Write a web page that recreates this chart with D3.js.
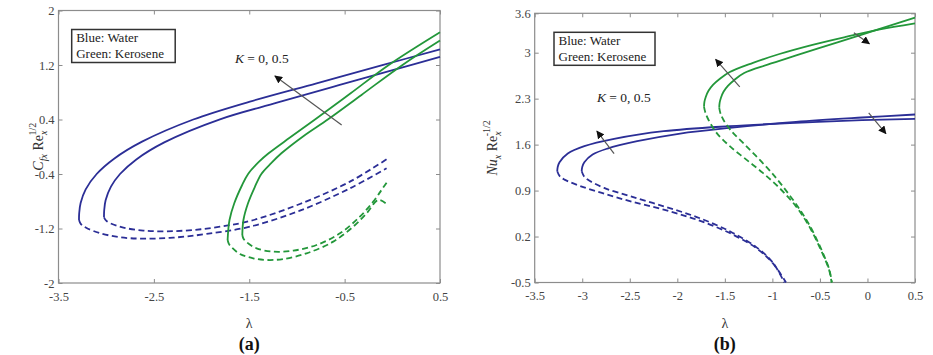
<!DOCTYPE html>
<html>
<head>
<meta charset="utf-8">
<script src="https://cdn.jsdelivr.net/npm/d3@7"></script>
<style>
  body { margin: 0; background: #fff; }
  svg { display: block; }
  text { font-family: "Liberation Serif", "Times New Roman", Times, "DejaVu Serif", serif; }
</style>
</head>
<body>
<div id="chart"></div>
<script>
// tick values
const lambdaTicksA = [-3.5, -2.5, -1.5, -0.5, 0.5];
const cfTicks = [-2, -1.2, -0.4, 0.4, 1.2, 2];
const lambdaTicksB = [-3.5, -3, -2.5, -2, -1.5, -1, -0.5, 0, 0.5];
const nuTicks = [-0.5, 0.2, 0.9, 1.6, 2.3, 3, 3.6];

// (a) skin friction, [lambda, Cf Re^1/2]; "outer" branch reaches further left
const cfWaterOuter = [[-3.285, -1.075], [-3.283, -0.975], [-3.268, -0.825], [-3.215, -0.625], [-3.1, -0.4],
  [-2.917, -0.175], [-2.624, 0.075], [-2.087, 0.4], [-1.493, 0.663], [-0.794, 0.932], [-0.095, 1.201], [0.5, 1.431]];
const cfWaterInner = [[-3.023, -1.036], [-3.021, -0.936], [-3.006, -0.786], [-2.95, -0.586], [-2.855, -0.4],
  [-2.684, -0.186], [-2.391, 0.064], [-1.807, 0.403], [-1.2, 0.65], [-0.57, 0.9], [0.07, 1.15], [0.5, 1.32]];
const cfWaterOuterLower = [[-3.285, -1.075], [-3.265, -1.135], [-3.21, -1.19], [-3.065, -1.268], [-2.855, -1.329],
  [-2.611, -1.349], [-2.296, -1.334], [-1.947, -1.28], [-1.493, -1.173], [-0.969, -0.938], [-0.444, -0.61], [-0.06, -0.316]];
const cfWaterInnerLower = [[-3.023, -1.036], [-3.0, -1.085], [-2.955, -1.125], [-2.82, -1.187], [-2.611, -1.231],
  [-2.366, -1.241], [-2.087, -1.222], [-1.807, -1.173], [-1.493, -1.09], [-0.969, -0.84], [-0.444, -0.512], [-0.06, -0.184]];
const cfKeroOuter = [[-1.727, -1.369], [-1.707, -1.075], [-1.657, -0.83], [-1.577, -0.569], [-1.512, -0.399],
  [-1.397, -0.219], [-1.297, -0.096], [-1.077, 0.131], [-0.807, 0.403], [-0.437, 0.785], [-0.037, 1.201], [0.5, 1.681]];
const cfKeroInner = [[-1.573, -1.295], [-1.561, -1.075], [-1.513, -0.83], [-1.443, -0.595], [-1.373, -0.399],
  [-1.273, -0.245], [-1.163, -0.096], [-0.933, 0.155], [-0.673, 0.403], [-0.323, 0.761], [0.107, 1.201], [0.5, 1.559]];
const cfKeroOuterLower = [[-1.727, -1.369], [-1.712, -1.43], [-1.682, -1.48], [-1.598, -1.574], [-1.458, -1.638],
  [-1.318, -1.662], [-1.143, -1.648], [-0.899, -1.564], [-0.619, -1.393], [-0.41, -1.173], [-0.27, -0.977],
  [-0.147, -0.781], [-0.06, -0.84]];
const cfKeroInnerLower = [[-1.573, -1.295], [-1.56, -1.35], [-1.528, -1.4], [-1.423, -1.491], [-1.248, -1.54],
  [-1.038, -1.525], [-0.794, -1.442], [-0.549, -1.271], [-0.34, -1.026], [-0.2, -0.806], [-0.113, -0.634], [-0.06, -0.527]];

// (b) heat transfer, [lambda, Nu Re^-1/2]
const nuWaterOuter = [[-3.263, 1.194], [-3.258, 1.26], [-3.239, 1.331], [-3.152, 1.464], [-2.978, 1.576],
  [-2.665, 1.687], [-2.143, 1.804], [-1.448, 1.881], [-0.752, 1.932], [-0.057, 1.972], [0.5, 1.993]];
const nuWaterInner = [[-3.006, 1.194], [-3.0, 1.26], [-2.978, 1.331], [-2.891, 1.448], [-2.735, 1.54],
  [-2.422, 1.652], [-1.97, 1.769], [-1.448, 1.855], [-0.752, 1.947], [-0.057, 2.013], [0.5, 2.059]];
const nuWaterOuterLower = [[-3.263, 1.194], [-3.235, 1.115], [-3.187, 1.067], [-3.013, 0.965], [-2.77, 0.853],
  [-2.491, 0.736], [-2.143, 0.609], [-1.796, 0.457], [-1.448, 0.253], [-1.17, 0.024], [-0.996, -0.205], [-0.857, -0.5]];
const nuWaterInnerLower = [[-3.006, 1.194], [-2.98, 1.115], [-2.943, 1.067], [-2.77, 0.94], [-2.491, 0.813],
  [-2.143, 0.66], [-1.796, 0.497], [-1.448, 0.279], [-1.17, 0.039], [-0.996, -0.195], [-0.874, -0.5]];
const nuKeroOuter = [[-1.719, 2.176], [-1.715, 2.25], [-1.7, 2.33], [-1.672, 2.42], [-1.625, 2.51], [-1.555, 2.6],
  [-1.448, 2.705], [-1.204, 2.845], [-0.926, 2.98], [-0.578, 3.12], [-0.23, 3.24], [0.117, 3.35], [0.5, 3.447]];
const nuKeroInner = [[-1.559, 2.161], [-1.555, 2.235], [-1.541, 2.315], [-1.514, 2.405], [-1.468, 2.495], [-1.4, 2.585],
  [-1.297, 2.69], [-1.05, 2.818], [-0.75, 2.958], [-0.4, 3.12], [-0.05, 3.28], [0.22, 3.405], [0.5, 3.534]];
const nuKeroOuterLower = [[-1.719, 2.176], [-1.705, 2.09], [-1.674, 1.983], [-1.587, 1.779], [-1.448, 1.576],
  [-1.274, 1.372], [-1.1, 1.169], [-0.926, 0.94], [-0.752, 0.66], [-0.613, 0.355], [-0.491, -0.001],
  [-0.404, -0.306], [-0.377, -0.5]];
const nuKeroInnerLower = [[-1.559, 2.161], [-1.545, 2.07], [-1.517, 1.983], [-1.43, 1.804], [-1.308, 1.626],
  [-1.17, 1.423], [-1.03, 1.209], [-0.891, 0.965], [-0.735, 0.66], [-0.603, 0.355], [-0.484, -0.001],
  [-0.401, -0.306], [-0.374, -0.5]];

// arrows [from, to] in data units
const arrowsA = [[[-0.531, 0.32], [-1.231, 1.04]]];
const arrowsB = [
  [[-1.343, 2.481], [-1.597, 2.898]],
  [[-0.143, 3.305], [0.02, 3.137]],
  [[-2.665, 1.464], [-2.846, 1.804]],
  [[0.013, 2.084], [0.194, 1.769]]
];

const BLUE = "#2b2e96";
const GREEN = "#23973a";
const AXIS = "#8c8c8c";

const svg = d3.select("#chart").append("svg")
  .attr("width", 933)
  .attr("height", 355);

svg.append("defs").append("marker")
  .attr("id", "head")
  .attr("viewBox", "0 0 10 10")
  .attr("refX", 9)
  .attr("refY", 5)
  .attr("markerWidth", 8)
  .attr("markerHeight", 8)
  .attr("markerUnits", "userSpaceOnUse")
  .attr("orient", "auto")
  .append("path")
  .attr("d", "M0,0 L10,5 L0,10 Z")
  .attr("fill", "#111");

function drawPanel(p) {
  let x = d3.scaleLinear().domain([-3.5, 0.5]).range([p.left, p.right]);
  let y = d3.scaleLinear().domain(p.yDomain).range([p.bottom, p.top]);
  let g = svg.append("g");

  let fmt = d => String(d);

  // MATLAB style box: inward ticks on all four sides, labels bottom and left
  let axes = [
    [d3.axisBottom(x).tickValues(p.xTicks).tickFormat(fmt), `translate(0,${p.bottom})`, 9],
    [d3.axisTop(x).tickValues(p.xTicks).tickFormat(""), `translate(0,${p.top})`, 6],
    [d3.axisLeft(y).tickValues(p.yTicks).tickFormat(fmt), `translate(${p.left},0)`, 4],
    [d3.axisRight(y).tickValues(p.yTicks).tickFormat(""), `translate(${p.right},0)`, 4]
  ];
  axes.forEach(([ax, tr, pad]) => {
    let a = g.append("g")
      .attr("transform", tr)
      .call(ax.tickSize(-4).tickPadding(pad));
    a.select(".domain").remove();
    a.selectAll("line").attr("stroke", AXIS);
    a.selectAll("text")
      .attr("font-size", 12.5)
      .attr("fill", "#444");
  });

  g.append("rect")
    .attr("x", p.left)
    .attr("y", p.top)
    .attr("width", p.right - p.left)
    .attr("height", p.bottom - p.top)
    .attr("fill", "none")
    .attr("stroke", AXIS)
    .attr("stroke-width", 1.2);

  let line = d3.line()
    .x(d => x(d[0]))
    .y(d => y(d[1]))
    .curve(d3.curveCatmullRom.alpha(0.5));

  p.curves.forEach(c => {
    g.append("path")
      .attr("d", line(c.data))
      .attr("fill", "none")
      .attr("stroke", c.color)
      .attr("stroke-width", 1.8)
      .attr("stroke-dasharray", c.dashed ? "6,3.5" : null);
  });

  p.arrows.forEach(a => {
    g.append("line")
      .attr("x1", x(a[0][0]))
      .attr("y1", y(a[0][1]))
      .attr("x2", x(a[1][0]))
      .attr("y2", y(a[1][1]))
      .attr("stroke", "#555")
      .attr("stroke-width", 1.2)
      .attr("marker-end", "url(#head)");
  });

  // legend box
  let lg = g.append("g").attr("transform", `translate(${p.left + p.legendDx},${p.top + 19})`);
  lg.append("rect")
    .attr("x", 0)
    .attr("y", 0)
    .attr("width", p.legendW)
    .attr("height", 33)
    .attr("fill", "#fff")
    .attr("stroke", "#333")
    .attr("stroke-width", 1.5);
  lg.append("text").attr("x", 4.5).attr("y", 12.7)
    .attr("font-size", 13).attr("fill", "#222").text("Blue: Water");
  lg.append("text").attr("x", 4.5).attr("y", 28.3)
    .attr("font-size", 13).attr("fill", "#222").text("Green: Kerosene");

  // K label
  let kt = g.append("text")
    .attr("x", x(p.kPos[0]))
    .attr("y", y(p.kPos[1]))
    .attr("font-size", 13.5)
    .attr("fill", "#222");
  kt.append("tspan").attr("font-style", "italic").text("K");
  kt.append("tspan").text(" = 0, 0.5");

  // x label and panel tag
  let cx = (p.left + p.right) / 2;
  g.append("text")
    .attr("x", cx)
    .attr("y", 328)
    .attr("text-anchor", "middle")
    .attr("font-size", 14)
    .attr("fill", "#333")
    .text("λ");
  g.append("text")
    .attr("x", cx)
    .attr("y", 350)
    .attr("text-anchor", "middle")
    .attr("font-size", 18)
    .attr("font-weight", "bold")
    .attr("fill", "#111")
    .text(p.tag);

  // y label
  let yl = g.append("text")
    .attr("transform", `translate(${p.yLabelX},${(p.top + p.bottom) / 2}) rotate(-90)`)
    .attr("text-anchor", "middle")
    .attr("font-size", 14)
    .attr("fill", "#333");
  yl.append("tspan").attr("font-style", "italic").text(p.yMain);
  yl.append("tspan").attr("font-style", "italic").attr("font-size", 10).attr("dy", 4).text(p.ySub);
  yl.append("tspan").attr("dy", -4).text(" Re");
  yl.append("tspan").attr("font-style", "italic").attr("font-size", 10).attr("dy", 4).text("x");
  yl.append("tspan").attr("font-size", 10).attr("dx", -5).attr("dy", -11).text(p.yExp);
}

drawPanel({
  left: 58.5, right: 440, top: 10.5, bottom: 283,
  yDomain: [-2, 2],
  xTicks: lambdaTicksA,
  yTicks: cfTicks,
  legendDx: 13.2, legendW: 103.5,
  kPos: [-1.65, 1.235],
  tag: "(a)",
  yLabelX: 43,
  yMain: "C", ySub: "fx", yExp: "1/2",
  arrows: arrowsA,
  curves: [
    { data: cfWaterOuter, color: BLUE },
    { data: cfWaterInner, color: BLUE },
    { data: cfWaterOuterLower, color: BLUE, dashed: true },
    { data: cfWaterInnerLower, color: BLUE, dashed: true },
    { data: cfKeroOuter, color: GREEN },
    { data: cfKeroInner, color: GREEN },
    { data: cfKeroOuterLower, color: GREEN, dashed: true },
    { data: cfKeroInnerLower, color: GREEN, dashed: true }
  ]
});

drawPanel({
  left: 534.7, right: 915, top: 13.3, bottom: 282.5,
  yDomain: [-0.5, 3.6],
  xTicks: lambdaTicksB,
  yTicks: nuTicks,
  legendDx: 19.3, legendW: 101,
  kPos: [-2.845, 2.254],
  tag: "(b)",
  yLabelX: 497,
  yMain: "Nu", ySub: "x", yExp: "-1/2",
  arrows: arrowsB,
  curves: [
    { data: nuWaterOuter, color: BLUE },
    { data: nuWaterInner, color: BLUE },
    { data: nuWaterOuterLower, color: BLUE, dashed: true },
    { data: nuWaterInnerLower, color: BLUE, dashed: true },
    { data: nuKeroOuter, color: GREEN },
    { data: nuKeroInner, color: GREEN },
    { data: nuKeroOuterLower, color: GREEN, dashed: true },
    { data: nuKeroInnerLower, color: GREEN, dashed: true }
  ]
});
</script>
</body>
</html>
